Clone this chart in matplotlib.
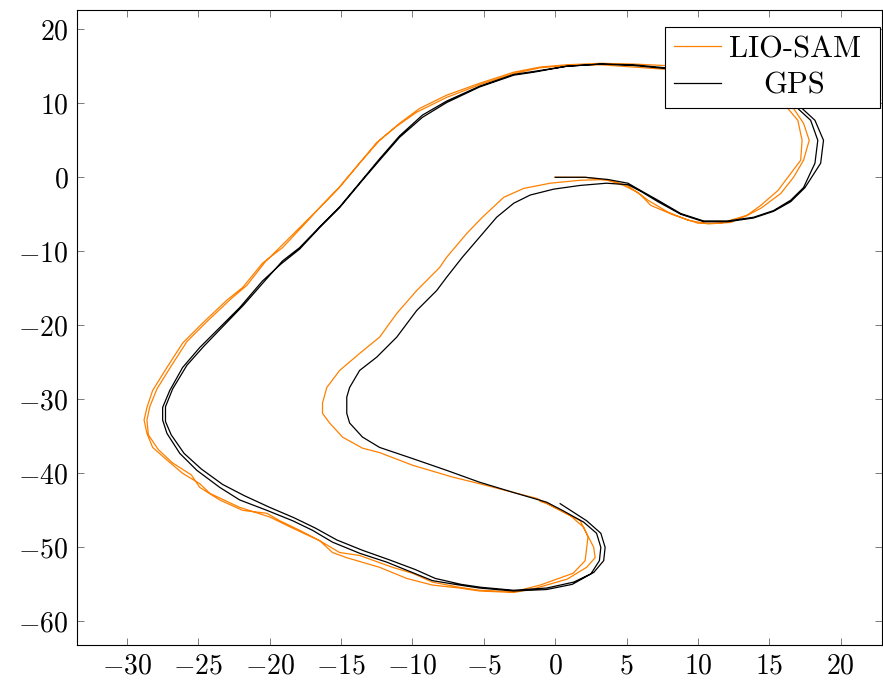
import matplotlib
matplotlib.use("Agg")
import matplotlib.pyplot as plt

plt.rcParams["font.family"] = "serif"
plt.rcParams["font.serif"] = ["cmr10"]
plt.rcParams["mathtext.fontset"] = "cm"
plt.rcParams["axes.formatter.use_mathtext"] = True

# --- trajectory data (metres) ---
# GPS: start -> lap 1 -> inner return -> lap 2 -> stop
gps_x = [0.0, 2.1, 3.7, 5.1, 6.0, 7.2, 8.8, 10.4, 12.1, 13.9, 15.3, 16.5, 17.4, 18.2, 18.4, 17.9, 17.0,
         15.5, 13.5, 11.0, 7.7, 5.5, 3.2, 0.8, -1.5, -2.9, -5.3, -7.6, -9.3, -10.9, -12.3, -13.5, -15.1,
         -16.5, -17.9, -19.2, -20.5, -22.1, -23.5, -24.9, -26.1, -27.0, -27.5, -27.5, -27.2, -26.3, -25.1,
         -23.5, -22.1, -20.2, -18.4, -17.0, -15.6, -13.7, -11.8, -10.0, -8.6, -6.7, -5.3, -2.9, -0.6, 1.2,
         2.5, 3.1, 3.2, 2.9, 2.0, 0.5, -0.6, -2.9, -5.3, -7.6, -10.0, -12.3, -13.5, -14.4, -14.6, -14.6,
         -14.4, -13.7, -12.5, -11.1, -9.7, -8.3, -7.6, -6.5, -5.3, -4.1, -2.9, -1.75, -0.1, 1.75, 3.6, 5.1,
         6.0, 7.2, 8.8, 10.4, 12.1, 13.9, 15.3, 16.5, 17.5, 18.6, 18.8, 18.2, 17.3, 15.8, 13.7, 11.1, 7.7,
         5.5, 3.2, 0.8, -1.5, -2.9, -5.3, -7.6, -9.3, -10.9, -12.3, -13.5, -15.1, -16.5, -17.9, -19.1,
         -20.3, -21.8, -23.2, -24.6, -25.8, -26.8, -27.3, -27.3, -26.9, -26.0, -24.8, -23.3, -21.8, -20.0,
         -18.3, -16.8, -15.3, -13.5, -11.6, -9.8, -8.4, -6.6, -5.2, -2.9, -0.6, 1.3, 2.7, 3.4, 3.5, 3.2,
         2.2, 0.35]
gps_y = [0.0, 0.0, -0.3, -0.8, -1.8, -3.1, -4.9, -5.9, -5.9, -5.4, -4.5, -3.1, -1.4, 1.9, 5.0, 7.7, 9.3,
         11.5, 13.3, 14.3, 14.7, 15.1, 15.3, 15.0, 14.2, 13.8, 12.2, 10.1, 8.1, 5.4, 2.3, -0.4, -4.1,
         -6.8, -9.7, -11.7, -14.0, -17.6, -20.3, -23.0, -25.7, -28.8, -31.1, -32.8, -34.6, -37.3, -39.6,
         -41.9, -43.6, -45.0, -46.4, -47.7, -49.3, -50.8, -52.0, -53.4, -54.5, -55.1, -55.5, -55.9, -55.7,
         -55.0, -53.6, -51.8, -50.0, -48.1, -46.6, -45.0, -43.9, -42.6, -41.2, -39.6, -38.0, -36.5, -35.1,
         -33.2, -31.9, -29.7, -28.4, -26.1, -24.3, -21.6, -18.0, -15.3, -13.5, -10.8, -8.1, -5.4, -3.5,
         -2.4, -1.6, -1.1, -0.8, -1.0, -1.9, -3.3, -5.0, -6.0, -6.0, -5.5, -4.6, -3.3, -1.4, 1.9, 5.0, 7.7,
         9.3, 11.5, 13.4, 14.4, 14.8, 15.2, 15.3, 15.0, 14.3, 13.9, 12.3, 10.3, 8.4, 5.6, 2.5, -0.3, -4.0,
         -6.7, -9.5, -11.3, -13.9, -17.2, -20.0, -22.8, -25.4, -28.6, -31.0, -33.0, -34.8, -37.3, -39.4,
         -41.5, -43.0, -44.6, -46.0, -47.4, -49.0, -50.4, -51.7, -53.0, -54.2, -55.0, -55.4, -55.8, -55.5,
         -54.7, -53.4, -51.8, -50.0, -48.1, -46.4, -44.1]

# LIO-SAM estimate over the same run
lio_x = [0.0, 2.1, 3.65, 4.8, 5.75, 6.5, 7.9, 9.3, 10.7, 12.3, 13.4, 14.4, 15.6, 16.5, 17.2, 17.3, 17.0,
         16.3, 15.0, 13.0, 10.5, 7.7, 5.5, 3.2, 0.8, -1.05, -2.9, -5.3, -7.6, -9.5, -10.9, -12.3, -13.7,
         -15.1, -16.5, -17.3, -19.1, -20.5, -21.9, -23.0, -24.7, -26.1, -27.2, -28.2, -28.6, -28.8, -28.6,
         -28.2, -27.2, -26.1, -24.9, -24.2, -22.1, -20.0, -18.4, -16.5, -15.6, -14.6, -12.3, -10.4, -8.6,
         -6.7, -5.3, -2.9, -1.5, 0.84, 2.2, 2.8, 2.7, 1.75, -0.56, -1.26, -2.9, -5.3, -7.2, -10.0, -12.3,
         -13.5, -14.9, -15.8, -16.3, -16.3, -16.0, -15.1, -13.7, -12.3, -11.1, -9.7, -8.1, -7.6, -6.2,
         -5.1, -3.6, -2.2, -0.35, 1.75, 3.65, 5.05, 6.0, 6.7, 8.3, 10.0, 11.6, 13.5, 14.4, 15.8, 16.7,
         17.4, 17.8, 17.4, 16.7, 15.3, 13.3, 10.7, 7.7, 5.5, 3.2, 0.8, -1.05, -2.9, -5.3, -7.6, -9.7,
         -11.1, -12.5, -13.8, -15.2, -16.6, -18.0, -19.2, -20.3, -21.6, -22.7, -24.4, -25.8, -26.9, -27.9,
         -28.4, -28.6, -28.5, -27.8, -26.8, -25.5, -24.9, -23.5, -21.9, -20.2, -19.3, -17.9, -16.5, -15.1,
         -13.7, -11.4, -10.0, -8.6, -6.7, -5.3, -2.9, -1.05, 1.26, 2.1, 2.3, 2.0, 1.05, -0.56, -1.05]
lio_y = [0.0, 0.0, -0.4, -1.1, -2.0, -3.1, -4.7, -5.8, -6.3, -6.1, -5.2, -3.8, -1.8, 0.5, 2.3, 5.0, 7.7,
         9.3, 11.8, 13.5, 14.7, 15.1, 15.3, 15.4, 15.2, 14.9, 14.2, 12.7, 11.1, 9.3, 7.3, 5.0, 1.9,
         -1.35, -4.1, -5.8, -9.5, -11.6, -14.9, -16.6, -19.7, -22.4, -25.7, -28.8, -31.1, -32.8, -34.6,
         -36.5, -38.2, -40.0, -41.4, -42.7, -44.6, -45.9, -47.4, -49.1, -50.7, -51.4, -52.7, -54.2, -55.1,
         -55.5, -55.9, -56.1, -55.6, -54.3, -52.7, -51.4, -50.0, -46.4, -44.1, -43.4, -42.6, -41.4, -40.5,
         -38.9, -37.2, -36.6, -35.1, -33.2, -31.9, -30.5, -28.4, -26.1, -23.8, -21.6, -18.4, -15.3, -12.2,
         -10.8, -7.6, -5.4, -2.7, -1.5, -0.8, -0.4, -0.3, -1.1, -2.4, -3.8, -5.1, -6.2, -6.2, -5.1, -4.2,
         -2.2, 0.0, 2.3, 5.0, 7.3, 9.3, 11.6, 13.2, 14.3, 14.6, 14.9, 15.2, 15.1, 14.8, 14.0, 12.5, 10.8,
         8.8, 6.9, 4.7, 1.7, -1.5, -4.3, -7.0, -9.3, -11.4, -14.6, -16.4, -19.5, -22.2, -25.5, -28.6,
         -31.0, -32.8, -34.8, -36.8, -38.6, -40.2, -41.9, -43.6, -45.0, -45.4, -46.4, -47.7, -49.1, -50.7,
         -51.1, -52.7, -53.5, -54.7, -55.4, -55.8, -56.0, -55.1, -53.5, -51.8, -48.6, -47.3, -45.7, -44.1,
         -43.8]

x_ticks = [-30, -25, -20, -15, -10, -5, 0, 5, 10, 15, 20]
y_ticks = [-60, -50, -40, -30, -20, -10, 0, 10, 20]

fig = plt.figure(figsize=(8.83, 6.87), dpi=100)
ax = fig.add_axes([0.0872, 0.0611, 0.9117, 0.9243])

ax.plot(lio_x, lio_y, color=(1.0, 0.5, 0.0), lw=0.9, label="LIO-SAM")
ax.plot(gps_x, gps_y, color="black", lw=0.9, label="GPS")

ax.set_xlim(-33.5, 22.9)
ax.set_ylim(-63.2, 22.6)
ax.set_xticks(x_ticks)
ax.set_yticks(y_ticks)
ax.tick_params(direction="in", top=True, right=True, length=5, width=0.6,
               color="0.4", labelsize=20, pad=6)
for s in ax.spines.values():
    s.set_linewidth(0.8)

# legend box spans a fixed width, entries left-aligned inside it
leg = ax.legend(loc="upper left", bbox_to_anchor=(0.7304, 0.5, 0.2671, 0.473), mode="expand",
                borderaxespad=0, fontsize=22, fancybox=False, framealpha=1, edgecolor="black",
                handlelength=1.55, handletextpad=0.25, borderpad=0.28, labelspacing=0.3)
leg.get_frame().set_linewidth(0.8)

# centre the shorter legend label under the longer one, like pgfplots does
fig.canvas.draw()
r = fig.canvas.get_renderer()
t1, t2 = leg.get_texts()
dw = t1.get_window_extent(r).width - t2.get_window_extent(r).width
t2.set_position((dw / 2, 0))

fig.savefig("out.png", dpi=100)
